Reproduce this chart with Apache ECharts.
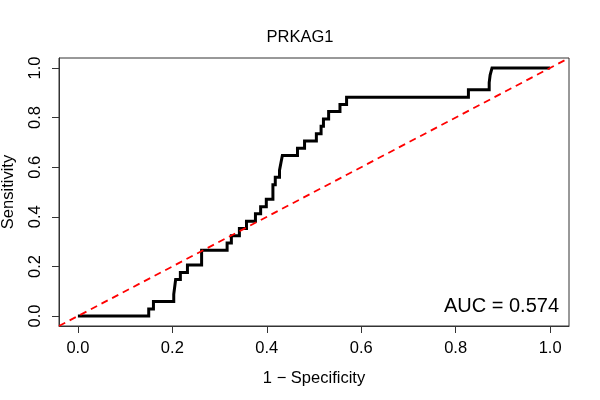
<!DOCTYPE html>
<html>
<head>
<meta charset="utf-8">
<script src="https://cdn.jsdelivr.net/npm/echarts@6/dist/echarts.min.js"></script>
<style>
html,body{margin:0;padding:0;background:#fff;}
#c{width:600px;height:400px;}
</style>
</head>
<body>
<div id="c"></div>
<script>
var chartTitle = 'PRKAG1';
var aucText = 'AUC = 0.574';
var xTitle = '1 \u2212 Specificity';
var yTitle = 'Sensitivity';
var tickValues = [0, 0.2, 0.4, 0.6, 0.8, 1.0];
var axisMin = -0.04;
var axisMax = 1.04;
// ROC curve vertices (1 - specificity, sensitivity)
var fpr = [0, 0.150, 0.150, 0.160, 0.160, 0.203, 0.203, 0.207, 0.207, 0.217, 0.217, 0.232, 0.232, 0.262, 0.262,
  0.316, 0.316, 0.325, 0.325, 0.342, 0.342, 0.357, 0.357, 0.376, 0.376, 0.387, 0.387, 0.399, 0.399,
  0.413, 0.413, 0.418, 0.418, 0.427, 0.427, 0.430, 0.430, 0.433, 0.433, 0.465, 0.465, 0.480, 0.480,
  0.505, 0.505, 0.515, 0.515, 0.520, 0.520, 0.531, 0.531, 0.555, 0.555, 0.569, 0.569, 0.827, 0.827,
  0.871, 0.871, 0.873, 0.873, 0.877, 0.877, 1.0];
var tpr = [0, 0, 0.029, 0.029, 0.059, 0.059, 0.088, 0.088, 0.147, 0.147, 0.176, 0.176, 0.206, 0.206, 0.265,
  0.265, 0.294, 0.294, 0.324, 0.324, 0.353, 0.353, 0.382, 0.382, 0.412, 0.412, 0.441, 0.441, 0.471,
  0.471, 0.529, 0.529, 0.559, 0.559, 0.588, 0.588, 0.618, 0.618, 0.647, 0.647, 0.676, 0.676, 0.706,
  0.706, 0.735, 0.735, 0.765, 0.765, 0.794, 0.794, 0.824, 0.824, 0.853, 0.853, 0.882, 0.882, 0.912,
  0.912, 0.941, 0.941, 0.971, 0.971, 1.0, 1.0];

var roc = fpr.map(function (x, i) { return [x, tpr[i]]; });
var diag = [[axisMin, axisMin], [axisMax, axisMax]];
var font = '"Liberation Sans", Arial, Helvetica, sans-serif';
var frame = '#333';

var chart = echarts.init(document.getElementById('c'), null, {renderer: 'canvas'});
chart.setOption({
  animation: false,
  backgroundColor: '#fff',
  title: [
    {text: chartTitle, left: 'center', top: 29, padding: 0,
     textStyle: {fontFamily: font, fontSize: 16.5, fontWeight: 'normal', color: '#000'}},
    {text: aucText, right: 41, top: 296, padding: 0,
     textStyle: {fontFamily: font, fontSize: 20, fontWeight: 'normal', color: '#000'}}
  ],
  grid: {left: 59, right: 31, top: 58, bottom: 74, containLabel: false, outerBoundsMode: 'none',
    show: true, borderColor: frame, borderWidth: 1, backgroundColor: 'transparent'},
  xAxis: {
    type: 'value', min: axisMin, max: axisMax,
    name: xTitle, nameLocation: 'middle', nameGap: 44,
    nameTextStyle: {fontFamily: font, fontSize: 16.5, color: '#000'},
    splitLine: {show: false},
    axisLine: {show: true, onZero: false, lineStyle: {color: frame, width: 1}},
    axisTick: {show: true, inside: false, length: 7, customValues: tickValues, lineStyle: {color: frame, width: 1}},
    axisLabel: {show: true, customValues: tickValues, margin: 14, fontFamily: font, fontSize: 16.5, color: '#000',
      formatter: function (v) { return v.toFixed(1); }}
  },
  yAxis: {
    type: 'value', min: axisMin, max: axisMax,
    name: yTitle, nameLocation: 'middle', nameGap: 42,
    nameTextStyle: {fontFamily: font, fontSize: 16.5, color: '#000'},
    splitLine: {show: false},
    axisLine: {show: true, onZero: false, lineStyle: {color: frame, width: 1}},
    axisTick: {show: true, inside: false, length: 7, customValues: tickValues, lineStyle: {color: frame, width: 1}},
    axisLabel: {show: true, customValues: tickValues, rotate: 90, margin: 15, fontFamily: font, fontSize: 16.5, color: '#000',
      formatter: function (v) { return v.toFixed(1); }}
  },
  series: [
    {type: 'line', data: roc, showSymbol: false, symbol: 'none', clip: true,
     lineStyle: {color: '#000', width: 3, join: 'miter', cap: 'butt'}, z: 3},
    {type: 'line', data: diag, showSymbol: false, symbol: 'none', clip: true,
     lineStyle: {color: '#ff0000', width: 1.8, type: [7, 5]}, z: 4}
  ]
});
</script>
</body>
</html>
